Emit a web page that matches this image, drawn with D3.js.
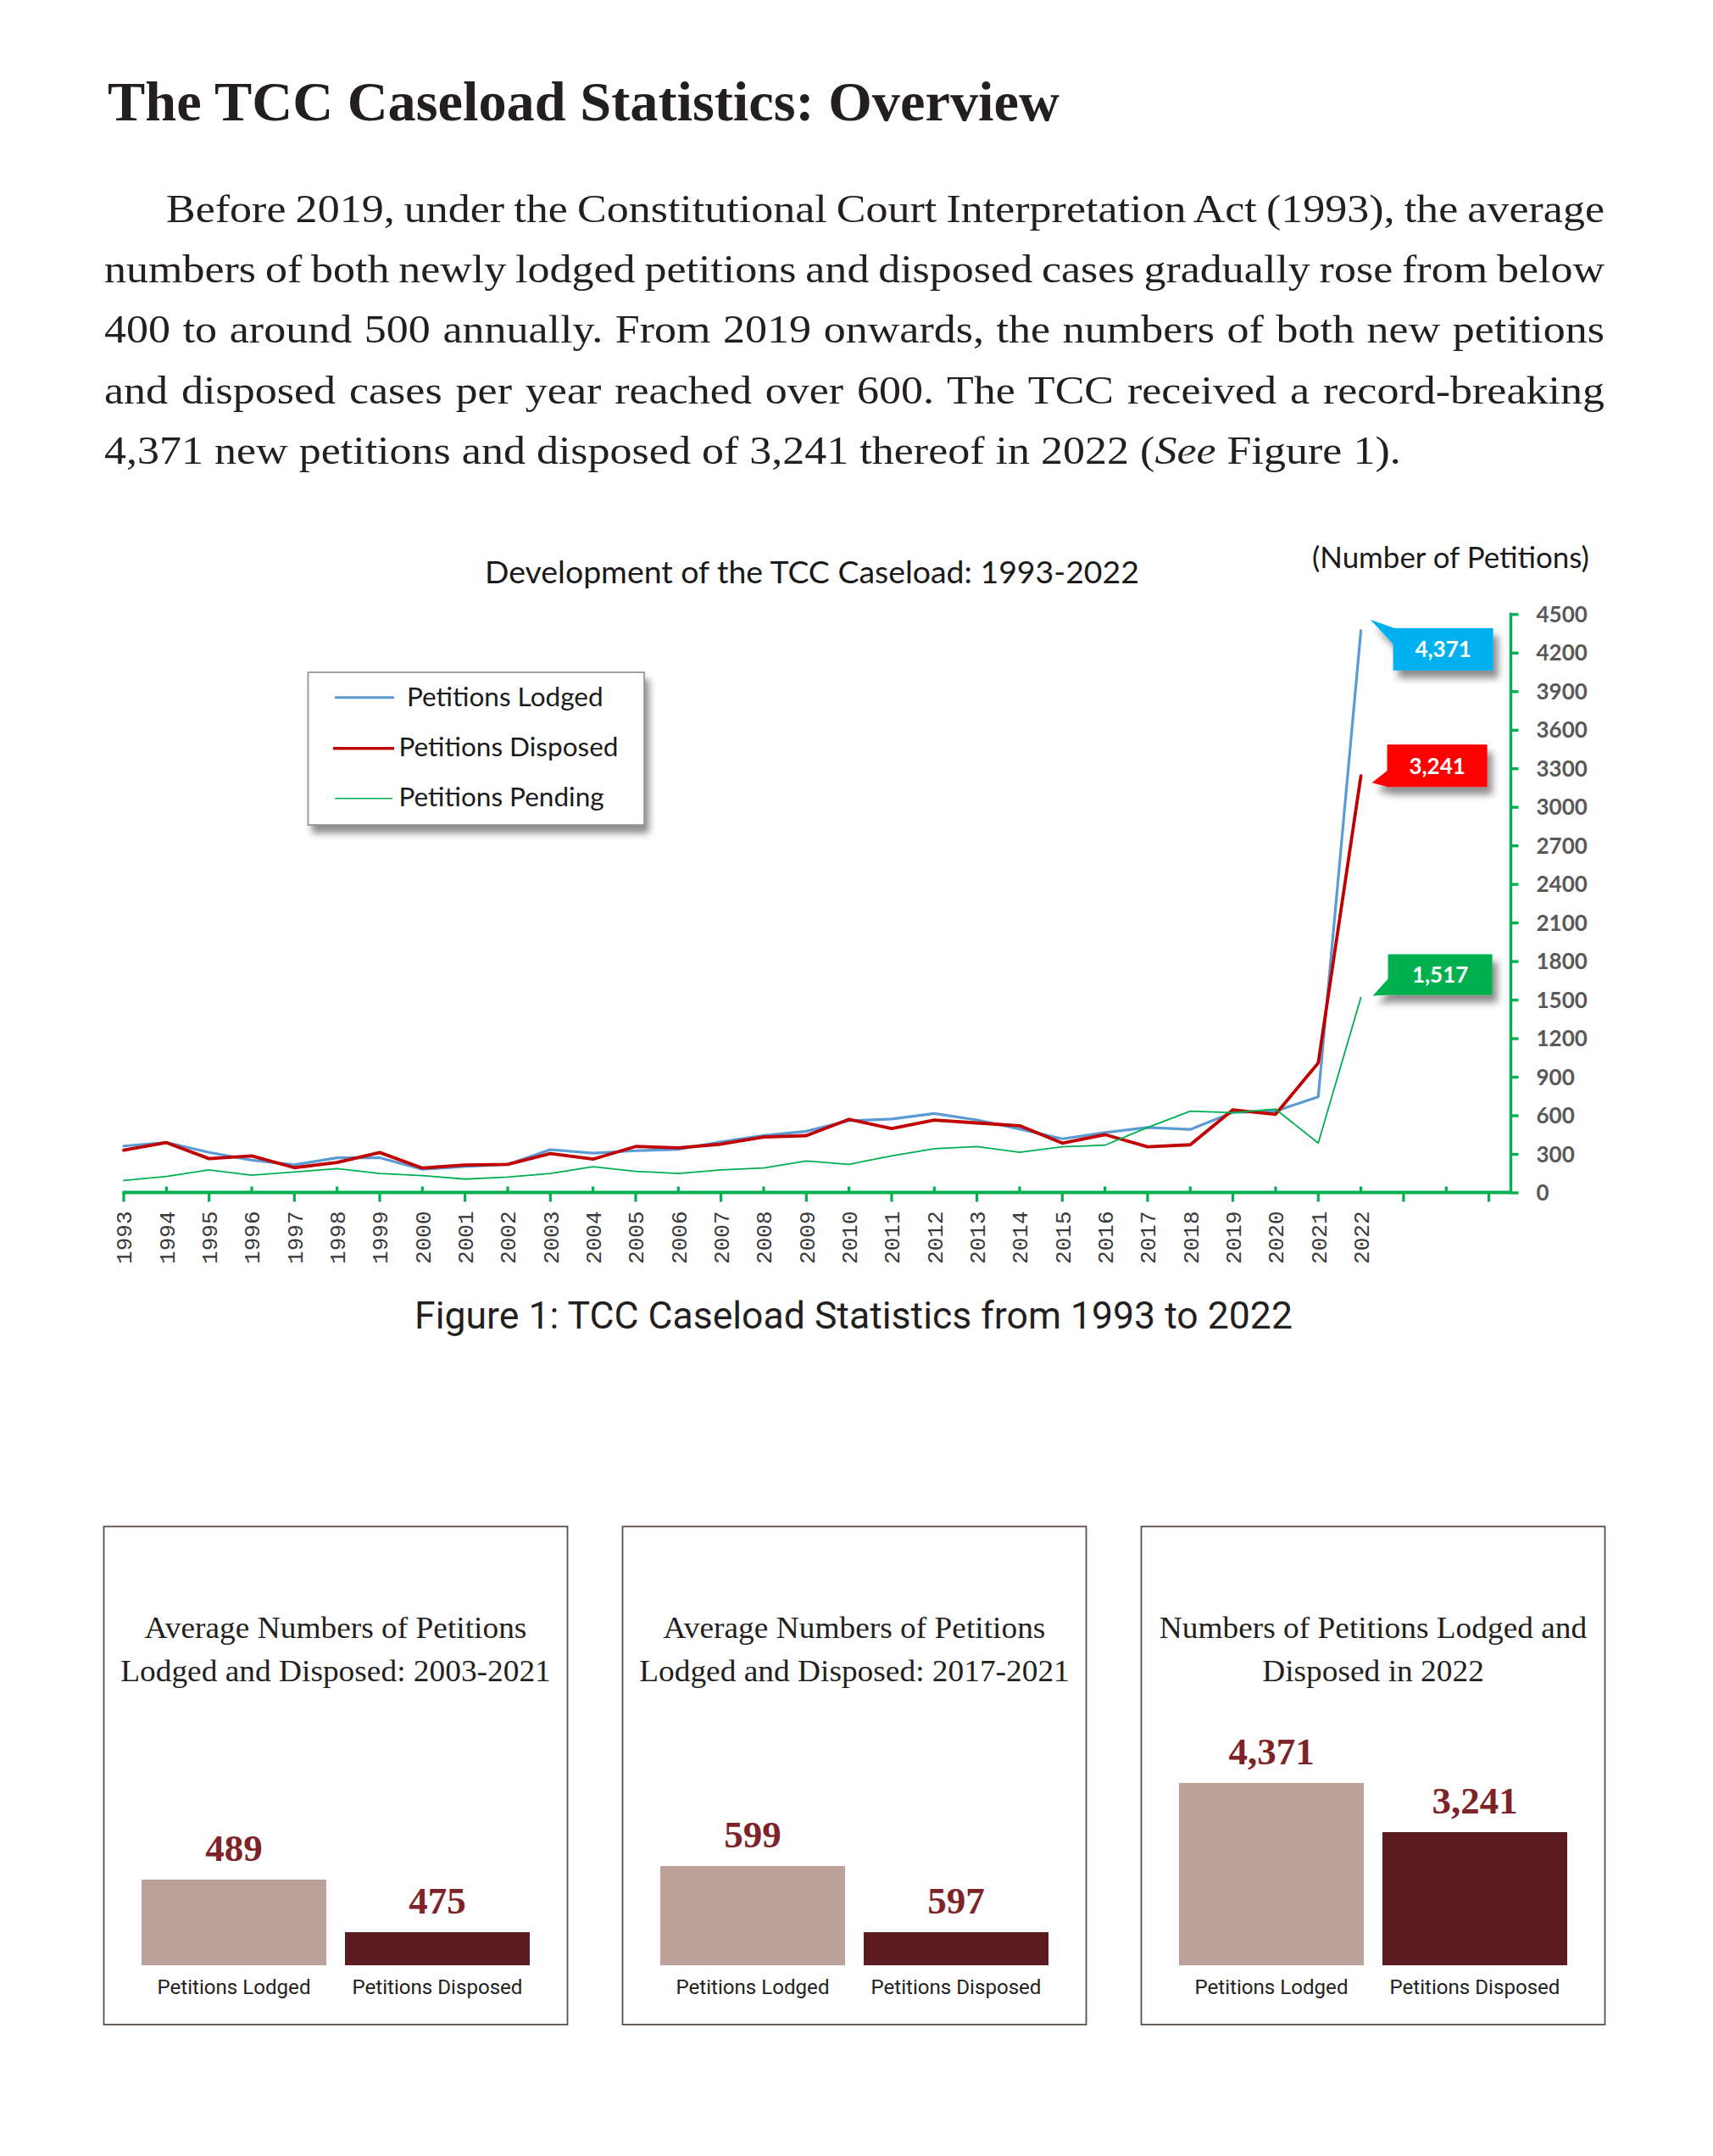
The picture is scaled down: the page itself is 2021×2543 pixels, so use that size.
<!DOCTYPE html>
<html>
<head>
<meta charset="utf-8">
<script src="https://cdn.jsdelivr.net/npm/d3@7"></script>
<style>
  html, body { margin: 0; padding: 0; background: #ffffff; }
  svg { display: block; }
</style>
</head>
<body>
<svg id="page" width="2021" height="2543"></svg>
<script>
// ================= DATA =================
const years = [1993,1994,1995,1996,1997,1998,1999,2000,2001,2002,2003,2004,2005,2006,2007,
               2008,2009,2010,2011,2012,2013,2014,2015,2016,2017,2018,2019,2020,2021,2022];
const lodged   = [361,389,312,251,215,270,270,180,201,218,333,306,325,335,394,
                  443,476,558,571,614,564,494,417,466,505,490,623,633,744,4371];
const disposed = [329,388,263,285,193,234,311,190,214,219,303,259,358,347,376,
                  431,442,569,497,563,541,519,384,450,355,371,643,608,1008,3241];
const pending  = [93,124,175,135,159,186,148,131,104,120,148,201,164,148,175,
                  190,245,219,285,340,357,313,355,368,505,632,621,648,384,1517];
const seriesNames = ["Petitions Lodged", "Petitions Disposed", "Petitions Pending"];
const yTickValues = [0,300,600,900,1200,1500,1800,2100,2400,2700,3000,3300,3600,3900,4200,4500];

const pageTitle = "The TCC Caseload Statistics: Overview";
const paragraphLines = [
  "Before 2019, under the Constitutional Court Interpretation Act (1993), the average",
  "numbers of both newly lodged petitions and disposed cases gradually rose from below",
  "400 to around 500 annually. From 2019 onwards, the numbers of both new petitions",
  "and disposed cases per year reached over 600. The TCC received a record-breaking"
];
const paragraphLast = ["4,371 new petitions and disposed of 3,241 thereof in 2022 (", "See", " Figure 1)."];
const chartTitle = "Development of the TCC Caseload: 1993-2022";
const unitLabel = "(Number of Petitions)";
const figureCaption = "Figure 1: TCC Caseload Statistics from 1993 to 2022";

const panelTitles = [
  ["Average Numbers of Petitions", "Lodged and Disposed: 2003-2021"],
  ["Average Numbers of Petitions", "Lodged and Disposed: 2017-2021"],
  ["Numbers of Petitions Lodged and", "Disposed in 2022"]
];
const panelCategories = ["Petitions Lodged", "Petitions Disposed"];
const panelLodged   = [489, 599, 4371];
const panelDisposed = [475, 597, 3241];

// ================= STYLE / LAYOUT =================
const C = {
  text: "#231F20", blue: "#5B9BD5", red: "#C00000", green: "#00B050",
  calloutBlue: "#00B0F0", calloutRed: "#FF0000", calloutGreen: "#00B050",
  axisLabel: "#595959", yearLabel: "#3a3a3a",
  barLight: "#BCA19B", barDark: "#5C1B20", valueText: "#7E2327", boxStroke: "#5b4f47"
};
const serif = "'Liberation Serif','Times New Roman',serif";
const calibriLike = "Lato,'Open Sans',sans-serif";

const svg = d3.select("#page");
svg.append("rect").attr("width", 2021).attr("height", 2543).attr("fill", "#fff");

const defs = svg.append("defs");
function shadow(id, dx, dy, sd, op) {
  const f = defs.append("filter").attr("id", id)
    .attr("x", "-20%").attr("y", "-20%").attr("width", "150%").attr("height", "160%");
  f.append("feDropShadow").attr("dx", dx).attr("dy", dy).attr("stdDeviation", sd)
    .attr("flood-color", "#000").attr("flood-opacity", op);
}
shadow("calloutShadow", 6, 9, 4, 0.45);
shadow("legendShadow", 5, 9, 4, 0.45);

function fitWidth(sel, target) {
  const w = sel.node().getComputedTextLength();
  const fs = parseFloat(sel.attr("font-size"));
  sel.attr("font-size", fs * target / w);
  return fs * target / w;
}

// ================= HEADER TEXT =================
const marginL = 123, marginR = 1893;
const titleSel = svg.append("text").attr("x", 127).attr("y", 142)
  .attr("font-family", serif).attr("font-weight", "bold").attr("font-size", 68)
  .attr("fill", C.text).text(pageTitle);
fitWidth(titleSel, 1123);

const paraFS = 45.5;
const paraBase = 262, paraLead = 71.2;
// last (left-aligned) line first: its width sets the horizontal stretch of the book face
const lastG = svg.append("g");
const last = lastG.append("text").attr("x", 0).attr("y", 0)
  .attr("font-family", serif).attr("font-size", paraFS).attr("fill", C.text);
last.append("tspan").text(paragraphLast[0]);
last.append("tspan").attr("font-style", "italic").text(paragraphLast[1]);
last.append("tspan").text(paragraphLast[2]);
const sx = 1530 / last.node().getComputedTextLength();
lastG.attr("transform", `translate(${marginL},${paraBase + 4 * paraLead}) scale(${sx},1)`);

paragraphLines.forEach((line, i) => {
  const x0 = i === 0 ? 196 : marginL;
  const g = svg.append("g").attr("transform", `translate(${x0},${paraBase + i * paraLead}) scale(${sx},1)`);
  const t = g.append("text").attr("x", 0).attr("y", 0)
    .attr("font-family", serif).attr("font-size", paraFS).attr("fill", C.text)
    .text(line);
  const natural = t.node().getComputedTextLength();
  const spaces = line.split(" ").length - 1;
  const extra = ((marginR - x0) / sx - natural) / spaces;
  t.style("word-spacing", extra + "px");
});

// ================= LINE CHART =================
const x = d3.scaleLinear().domain([1993, 2022]).range([146, 1605.6]);
const y = d3.scaleLinear().domain([0, 4500]).range([1406.5, 724.3]);
const axisX = 1782.5;

const chart = svg.append("g");

const ct = chart.append("text").attr("x", 958).attr("y", 688).attr("text-anchor", "middle")
  .attr("font-family", calibriLike).attr("font-size", 34).attr("fill", "#1a1a1a").text(chartTitle);
fitWidth(ct, 772);
const ul = chart.append("text").attr("x", 1548).attr("y", 670)
  .attr("font-family", calibriLike).attr("font-size", 32).attr("fill", "#1a1a1a").text(unitLabel);
fitWidth(ul, 327);

const lineGen = d3.line().x((d, i) => x(years[i])).y(d => y(d));
const seriesDefs = [
  { name: seriesNames[0], values: lodged,   color: C.blue,  width: 3.2 },
  { name: seriesNames[1], values: disposed, color: C.red,   width: 3.8 },
  { name: seriesNames[2], values: pending,  color: C.green, width: 1.8 }
];
chart.selectAll("path.series").data(seriesDefs).join("path")
  .attr("class", "series")
  .attr("d", d => lineGen(d.values))
  .attr("fill", "none").attr("stroke", d => d.color).attr("stroke-width", d => d.width)
  .attr("stroke-linejoin", "round").attr("stroke-linecap", "round");

// x axis
const xAxisY = y(0);
const xTickYears = d3.range(1993, 2026);
chart.append("line").attr("x1", x(1993) - 1.5).attr("x2", axisX + 1.5)
  .attr("y1", xAxisY).attr("y2", xAxisY).attr("stroke", C.green).attr("stroke-width", 3.8);
chart.selectAll("line.xtick").data(xTickYears).join("line").attr("class", "xtick")
  .attr("x1", d => x(d)).attr("x2", d => x(d))
  .attr("y1", (d, i) => i % 2 === 0 ? xAxisY : xAxisY - 7)
  .attr("y2", (d, i) => i % 2 === 0 ? xAxisY + 11 : xAxisY)
  .attr("stroke", C.green).attr("stroke-width", 3.2);
chart.selectAll("text.year").data(years).join("text").attr("class", "year")
  .attr("transform", d => `translate(${x(d)},${xAxisY + 22}) rotate(-90)`)
  .attr("text-anchor", "end").attr("dy", "0.36em")
  .attr("font-family", "'Liberation Mono','DejaVu Sans Mono',monospace")
  .attr("font-size", 26).attr("fill", C.yearLabel).text(d => d);

// y axis (right)
const yAxis = d3.axisRight(y).tickValues(yTickValues).tickSize(9).tickPadding(21)
  .tickFormat(d3.format("d"));
const gy = chart.append("g").attr("transform", `translate(${axisX},0)`).call(yAxis);
gy.select(".domain").attr("d", `M0,${y(4500) - 1.5}V${y(0) + 1.5}`)
  .attr("stroke", C.green).attr("stroke-width", 3.4).attr("fill", "none");
gy.selectAll(".tick line").attr("stroke", C.green).attr("stroke-width", 3.4);
gy.selectAll(".tick text").attr("font-family", calibriLike).attr("font-weight", 700)
  .attr("font-size", 26).attr("fill", C.axisLabel).attr("dy", "0.35em");

// legend
const lg = chart.append("g");
lg.append("rect").attr("x", 363.5).attr("y", 793).attr("width", 396.5).attr("height", 180)
  .attr("fill", "#fff").attr("stroke", "#8c8c8c").attr("stroke-width", 1.6)
  .attr("filter", "url(#legendShadow)");
const legendRows = [
  { x1: 395, x2: 465, ly: 822.7, tx: 480, ty: 833 },
  { x1: 393, x2: 465, ly: 882.7, tx: 470.5, ty: 892 },
  { x1: 395, x2: 463, ly: 941.7, tx: 470.5, ty: 951 }
];
let legendFS = null;
seriesDefs.forEach((s, i) => {
  const r = legendRows[i];
  lg.append("line").attr("x1", r.x1).attr("x2", r.x2).attr("y1", r.ly).attr("y2", r.ly)
    .attr("stroke", s.color).attr("stroke-width", s.width * 0.9);
  const t = lg.append("text").attr("x", r.tx).attr("y", r.ty)
    .attr("font-family", calibriLike).attr("font-size", 30).attr("fill", "#1a1a1a").text(s.name);
  if (i === 1) legendFS = fitWidth(t, 259);
});
lg.selectAll("text").attr("font-size", legendFS);

// callouts at the 2022 end points
const lastIdx = years.length - 1;
const calloutDefs = [
  { value: lodged[lastIdx],   fill: C.calloutBlue,  dx: 38, dy: -3,  w: 118, h: 50, tip: [11, -13], tail: "top" },
  { value: disposed[lastIdx], fill: C.calloutRed,   dx: 31, dy: -37, w: 118, h: 50, tip: [13, 8],   tail: "bottom" },
  { value: pending[lastIdx],  fill: C.calloutGreen, dx: 32, dy: -51, w: 123, h: 48, tip: [14, -2],  tail: "bottom" }
];
const fmt = d3.format(",");
calloutDefs.forEach(c => {
  const px = x(years[lastIdx]), py = y(c.value);
  const bx = px + c.dx, by = py + c.dy;
  const tipX = px + c.tip[0], tipY = py + c.tip[1];
  const g = chart.append("g").attr("filter", "url(#calloutShadow)");
  const tail = c.tail === "top"
    ? [[tipX, tipY], [bx + 1, by], [bx + 1, by + 20]]
    : [[tipX, tipY], [bx + 1, by + c.h - 20], [bx + 1, by + c.h]];
  g.append("path").attr("d", d3.line()(tail) + "Z").attr("fill", c.fill);
  g.append("rect").attr("x", bx).attr("y", by).attr("width", c.w).attr("height", c.h).attr("fill", c.fill);
  chart.append("text").attr("x", bx + c.w / 2).attr("y", by + c.h / 2).attr("dy", "0.36em")
    .attr("text-anchor", "middle").attr("font-family", calibriLike).attr("font-weight", 700)
    .attr("font-size", 26).attr("fill", "#fff").text(fmt(c.value));
});

// figure caption
const cap = svg.append("text").attr("x", 1007).attr("y", 1567).attr("text-anchor", "middle")
  .attr("font-family", "Roboto,'Liberation Sans',sans-serif").attr("font-size", 44)
  .attr("fill", C.text).text(figureCaption);
fitWidth(cap, 1036);

// ================= BOTTOM PANELS =================
const panelX0 = 122.5, panelPitch = 612, panelW = 547, panelTop = 1800.5, panelBottom = 2388;
const barBase = 2318;
// each panel uses its own truncated (non-zero-based) height scale, as in the source graphic
const panelHeightRange = [[39, 101], [39, 117], [157, 215]];
let catFS = null;
let titleSx = null;
panelTitles.forEach((titleLines, p) => {
  const bx = panelX0 + p * panelPitch;
  const g = svg.append("g");
  g.append("rect").attr("x", bx).attr("y", panelTop).attr("width", panelW)
    .attr("height", panelBottom - panelTop).attr("fill", "none")
    .attr("stroke", C.boxStroke).attr("stroke-width", 1.8);
  titleLines.forEach((tl, j) => {
    const tg = g.append("g");
    const t = tg.append("text").attr("x", 0).attr("y", 0)
      .attr("text-anchor", "middle").attr("font-family", serif).attr("font-size", 36)
      .attr("fill", C.text).text(tl);
    if (titleSx === null) titleSx = 451 / t.node().getComputedTextLength();
    tg.attr("transform", `translate(${bx + panelW / 2},${1932 + j * 51}) scale(${titleSx},1)`);
  });
  const vals = [panelLodged[p], panelDisposed[p]];
  const band = d3.scaleBand().domain(panelCategories).range([bx + 44.5, bx + 502.5])
    .paddingInner(22 / 240).paddingOuter(0);
  const h = d3.scaleLinear().domain([d3.min(vals), d3.max(vals)]).range(
    vals[0] >= vals[1] ? [panelHeightRange[p][0], panelHeightRange[p][1]] : [panelHeightRange[p][1], panelHeightRange[p][0]]);
  const data = panelCategories.map((c, i) => ({ cat: c, v: vals[i], fill: i === 0 ? C.barLight : C.barDark }));
  g.selectAll("rect.bar").data(data).join("rect").attr("class", "bar")
    .attr("x", d => band(d.cat)).attr("width", band.bandwidth())
    .attr("y", d => barBase - h(d.v)).attr("height", d => h(d.v)).attr("fill", d => d.fill);
  g.selectAll("text.val").data(data).join("text").attr("class", "val")
    .attr("x", d => band(d.cat) + band.bandwidth() / 2).attr("y", d => barBase - h(d.v) - 22)
    .attr("text-anchor", "middle").attr("font-family", serif).attr("font-weight", "bold")
    .attr("font-size", 45).attr("fill", C.valueText).text(d => fmt(d.v));
  const cats = g.selectAll("text.cat").data(data).join("text").attr("class", "cat")
    .attr("x", d => band(d.cat) + band.bandwidth() / 2).attr("y", 2352)
    .attr("text-anchor", "middle").attr("font-family", "Roboto,'Liberation Sans',sans-serif")
    .attr("font-size", 26).attr("fill", C.text).text(d => d.cat);
  if (catFS === null) catFS = fitWidth(d3.select(cats.nodes()[1]), 201);
  cats.attr("font-size", catFS);
});
</script>
</body>
</html>
